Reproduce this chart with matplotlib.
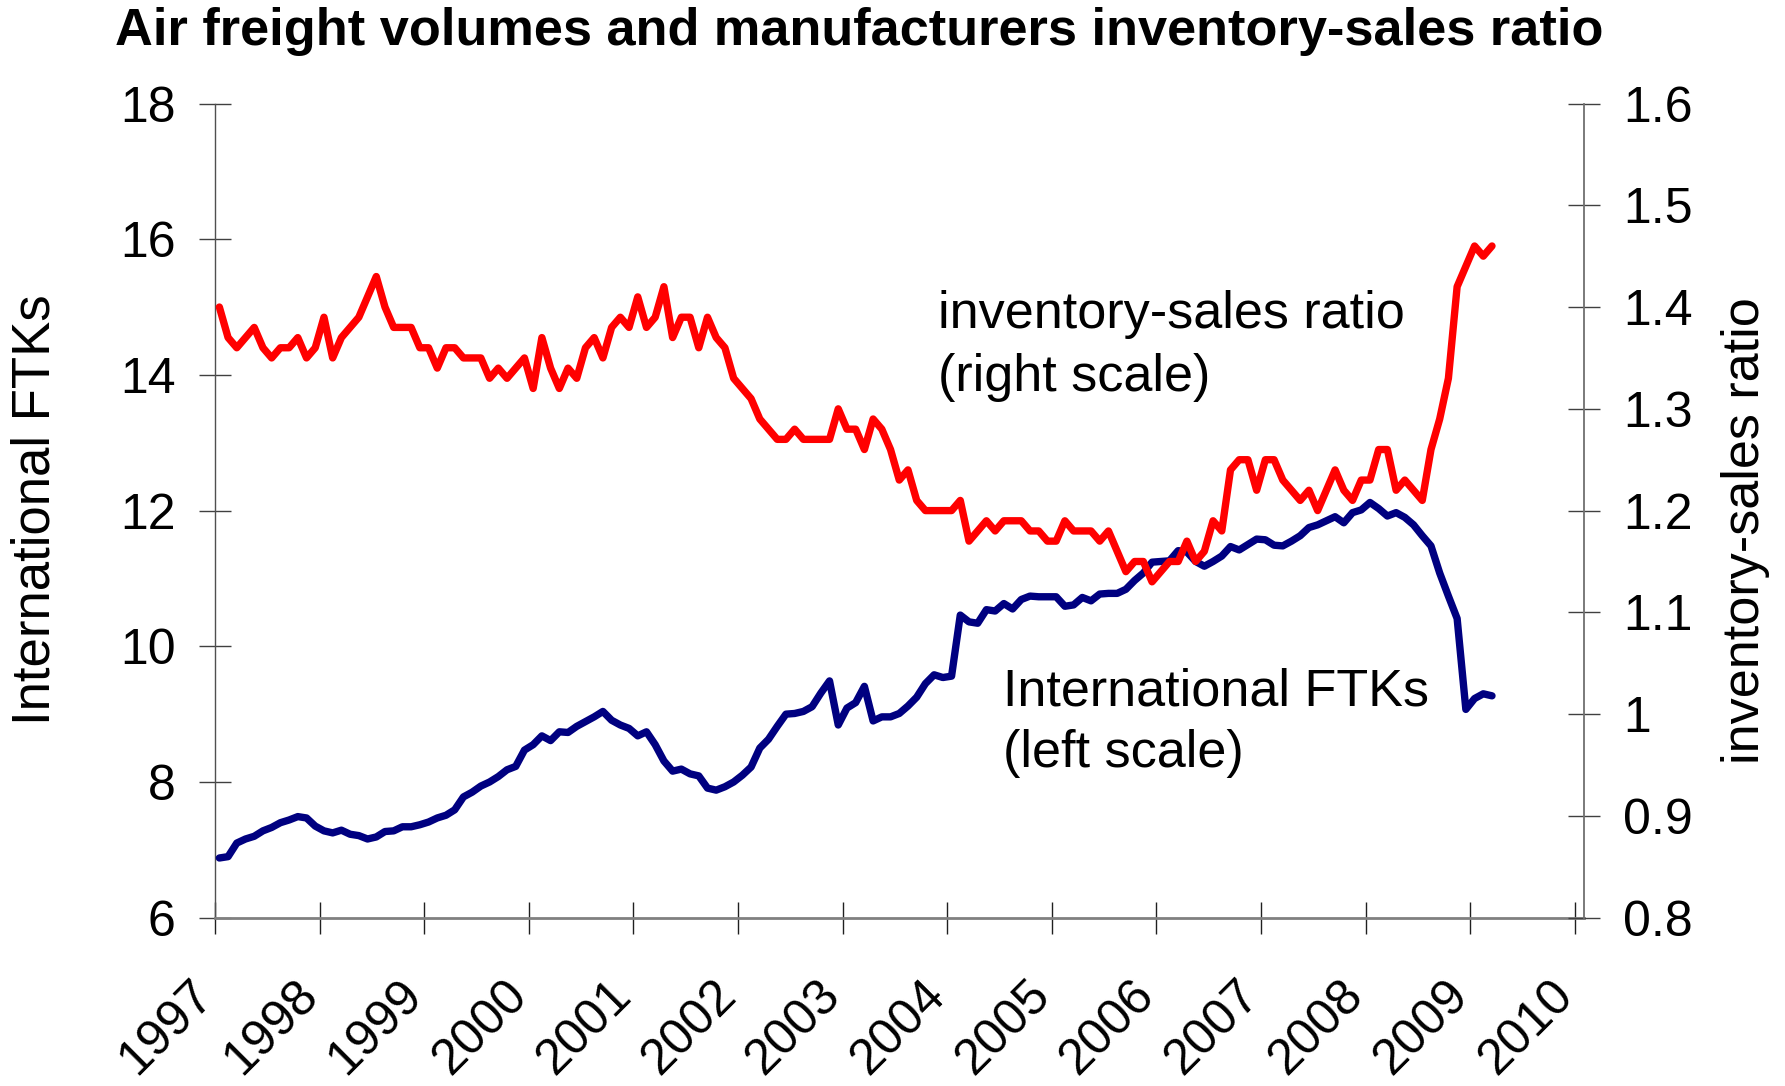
import numpy as np
import matplotlib
matplotlib.use("Agg")
import matplotlib.pyplot as plt

plt.rcParams['font.family'] = ['Liberation Sans', 'DejaVu Sans']

# ---------------- data ----------------
start_year = 1997
years = list(range(1997, 2011))
year_labels = [str(y) for y in years]

# International FTKs (left scale), monthly Jan 1997 - Mar 2009
ftk = [
    6.88, 6.90, 7.10, 7.16, 7.20, 7.28, 7.33, 7.40, 7.44, 7.49, 7.47, 7.35,   # 1997
    7.28, 7.25, 7.29, 7.23, 7.21, 7.16, 7.19, 7.27, 7.28, 7.34, 7.34, 7.37,   # 1998
    7.41, 7.47, 7.51, 7.59, 7.78, 7.85, 7.94, 8.00, 8.08, 8.18, 8.23, 8.47,   # 1999
    8.55, 8.68, 8.61, 8.74, 8.73, 8.82, 8.89, 8.96, 9.04, 8.91, 8.84, 8.79,   # 2000
    8.68, 8.74, 8.55, 8.31, 8.16, 8.19, 8.12, 8.09, 7.91, 7.88, 7.93, 8.00,   # 2001
    8.10, 8.22, 8.50, 8.63, 8.82, 9.00, 9.01, 9.04, 9.11, 9.31, 9.49, 8.84,   # 2002
    9.09, 9.17, 9.41, 8.90, 8.96, 8.96, 9.01, 9.12, 9.25, 9.45, 9.58, 9.54,   # 2003
    9.56, 10.46, 10.36, 10.34, 10.54, 10.52, 10.63, 10.55, 10.69, 10.74, 10.73, 10.73,  # 2004
    10.73, 10.59, 10.61, 10.72, 10.67, 10.77, 10.78, 10.78, 10.84, 10.97, 11.08, 11.24,  # 2005
    11.25, 11.26, 11.41, 11.39, 11.25, 11.18, 11.25, 11.33, 11.47, 11.42, 11.50, 11.58,  # 2006
    11.57, 11.49, 11.48, 11.55, 11.63, 11.75, 11.79, 11.85, 11.91, 11.82, 11.97, 12.01,  # 2007
    12.12, 12.03, 11.92, 11.97, 11.90, 11.79, 11.63, 11.48, 11.08, 10.74, 10.41, 9.07,   # 2008
    9.23, 9.30, 9.27,                                                           # 2009
]

# Manufacturers inventory-sales ratio (right scale)
isr = [
    1.40, 1.37, 1.36, 1.37, 1.38, 1.36, 1.35, 1.36, 1.36, 1.37, 1.35, 1.36,   # 1997
    1.39, 1.35, 1.37, 1.38, 1.39, 1.41, 1.43, 1.40, 1.38, 1.38, 1.38, 1.36,   # 1998
    1.36, 1.34, 1.36, 1.36, 1.35, 1.35, 1.35, 1.33, 1.34, 1.33, 1.34, 1.35,   # 1999
    1.32, 1.37, 1.34, 1.32, 1.34, 1.33, 1.36, 1.37, 1.35, 1.38, 1.39, 1.38,   # 2000
    1.41, 1.38, 1.39, 1.42, 1.37, 1.39, 1.39, 1.36, 1.39, 1.37, 1.36, 1.33,   # 2001
    1.32, 1.31, 1.29, 1.28, 1.27, 1.27, 1.28, 1.27, 1.27, 1.27, 1.27, 1.30,   # 2002
    1.28, 1.28, 1.26, 1.29, 1.28, 1.26, 1.23, 1.24, 1.21, 1.20, 1.20, 1.20,   # 2003
    1.20, 1.21, 1.17, 1.18, 1.19, 1.18, 1.19, 1.19, 1.19, 1.18, 1.18, 1.17,   # 2004
    1.17, 1.19, 1.18, 1.18, 1.18, 1.17, 1.18, 1.16, 1.14, 1.15, 1.15, 1.13,   # 2005
    1.14, 1.15, 1.15, 1.17, 1.15, 1.16, 1.19, 1.18, 1.24, 1.25, 1.25, 1.22,   # 2006
    1.25, 1.25, 1.23, 1.22, 1.21, 1.22, 1.20, 1.22, 1.24, 1.22, 1.21, 1.23,   # 2007
    1.23, 1.26, 1.26, 1.22, 1.23, 1.22, 1.21, 1.26, 1.29, 1.33, 1.42, 1.44,   # 2008
    1.46, 1.45, 1.46,                                                         # 2009
]

left_ticks = [6, 8, 10, 12, 14, 16, 18]
left_labels = ['6', '8', '10', '12', '14', '16', '18']
right_ticks = [0.8, 0.9, 1.0, 1.1, 1.2, 1.3, 1.4, 1.5, 1.6]
right_labels = ['0.8', '0.9', '1', '1.1', '1.2', '1.3', '1.4', '1.5', '1.6']

title = 'Air freight volumes and manufacturers inventory-sales ratio'
left_title = 'International FTKs'
right_title = 'inventory-sales ratio'
note_isr = ['inventory-sales ratio', '(right scale)']
note_ftk = ['International FTKs', '(left scale)']

# ---------------- layout (pixels) ----------------
W, H = 1785, 1086
px_left, px_right, px_top, px_bottom = 215, 1584, 103.5, 917.7
year_px = 104.6

def fx(x):
    return x / W

def fy(y):
    return 1 - y / H

fig = plt.figure(figsize=(W / 100, H / 100), dpi=100)
ax = fig.add_axes([fx(px_left), fy(px_bottom), (px_right - px_left) / W,
                   (px_bottom - px_top) / H])
ax2 = ax.twinx()

x = start_year + (np.arange(len(ftk)) + 0.5) / 12.0

NAVY = '#000080'
RED = '#FF0000'
ax.plot(x, ftk, color=NAVY, lw=5.3, solid_joinstyle='round', solid_capstyle='round', zorder=3)
ax2.plot(x, isr, color=RED, lw=5.3, solid_joinstyle='round', solid_capstyle='round', zorder=3)

ax.set_xlim(start_year, start_year + (px_right - px_left) / year_px)
ax.set_ylim(6, 18)
ax2.set_ylim(0.8, 1.6)

# spines
for s in ['top', 'right']:
    ax.spines[s].set_visible(False)
for s in ['top', 'left', 'bottom']:
    ax2.spines[s].set_visible(False)
ax.spines['left'].set_color('#505050')
ax.spines['left'].set_linewidth(1.0)
ax.spines['bottom'].set_color('#808080')
ax.spines['bottom'].set_linewidth(2.0)
ax2.spines['right'].set_color('#707070')
ax2.spines['right'].set_linewidth(1.3)

# ticks
ax.set_xticks(years)
ax.set_xticklabels(year_labels, rotation=45, ha='right', va='baseline',
                   rotation_mode='anchor', fontsize=36)
ax.set_yticks(left_ticks)
ax.set_yticklabels(left_labels, fontsize=36)
ax2.set_yticks(right_ticks)
ax2.set_yticklabels(right_labels, fontsize=36)

ax.tick_params(axis='x', direction='inout', length=23, width=1.0, color='#202020', pad=45.5)
ax.tick_params(axis='y', direction='inout', length=23, width=1.0, color='#404040', pad=17)
ax2.tick_params(axis='y', direction='inout', length=23, width=1.0, color='#404040', pad=16.5)

# axis titles
fig.text(fx(50), fy(510), left_title, rotation=90, rotation_mode='anchor',
         ha='center', va='baseline', fontsize=38)
fig.text(fx(1759), fy(531), right_title, rotation=90, rotation_mode='anchor',
         ha='center', va='baseline', fontsize=37.5)

# annotations
for i, line in enumerate(note_isr):
    fig.text(fx(938), fy(328 + 63 * i), line, ha='left', va='baseline', fontsize=37.5)
for i, line in enumerate(note_ftk):
    fig.text(fx(1003), fy(706 + 61.5 * i), line, ha='left', va='baseline', fontsize=37.5)

# title
fig.text(fx(115), fy(45), title, ha='left', va='baseline', fontsize=37.7, fontweight='bold')

fig.savefig('out.png', dpi=100)
